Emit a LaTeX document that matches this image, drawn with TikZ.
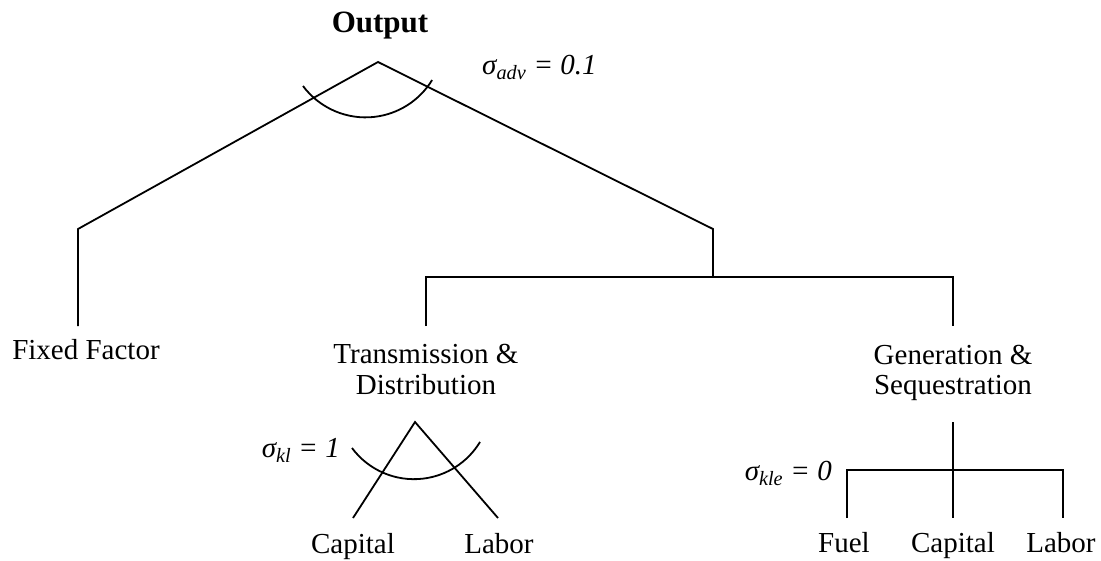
\documentclass[tikz,border=0pt]{standalone}
\usepackage{fontspec}
\setmainfont{Liberation Serif}
\newcommand{\sgm}[2]{{\itshape σ\textsubscript{#1} = #2}}
\tikzset{
  ln/.style={line width=1.8pt, line cap=butt, line join=miter},
  lbl/.style={inner sep=0pt, font=\fontsize{29}{31}\selectfont},
  ttl/.style={inner sep=0pt, font=\fontsize{31}{33}\selectfont\bfseries},
  sg/.style={inner sep=0pt, font=\fontsize{29}{31}\selectfont},
}
\begin{document}
\begin{tikzpicture}[x=1pt,y=-1pt]
\useasboundingbox (0,0) rectangle (1101,560);
% labels
\node[ttl, anchor=base] (out) at (380,32) {Output};
\node[sg, anchor=base west] (sadv) at (482,74) {\sgm{adv}{0.1}};
\node[lbl, anchor=base] (ff) at (86,359) {Fixed Factor};
\node[lbl, anchor=base] (td1) at (426,363) {Transmission \&};
\node[lbl, anchor=base] (td2) at (426,394) {Distribution};
\node[lbl, anchor=base] (gs1) at (953,364) {Generation \&};
\node[lbl, anchor=base] (gs2) at (953,394) {Sequestration};
\node[sg, anchor=base east] (skl) at (340,457) {\sgm{kl}{1}};
\node[sg, anchor=base east] (skle) at (832,480) {\sgm{kle}{0}};
\node[lbl, anchor=base] (cap1) at (353,553) {Capital};
\node[lbl, anchor=base] (lab1) at (499,553) {Labor};
\node[lbl, anchor=base] (fuel) at (844,552) {Fuel};
\node[lbl, anchor=base] (cap2) at (953,552) {Capital};
\node[lbl, anchor=base] (lab2) at (1061,552) {Labor};
% coordinates
\coordinate (apex) at (378,62);
\coordinate (jl) at (78,229);
\coordinate (ffT) at (78,326);
\coordinate (jr) at (713,229);
\coordinate (jh) at (713,277);
\coordinate (hl) at (426,277);
\coordinate (hr) at (953,277);
\coordinate (tdT) at (426,326);
\coordinate (gsT) at (953,326);
\coordinate (apex2) at (415,422);
\coordinate (c1T) at (353,518);
\coordinate (l1T) at (498,518);
\coordinate (gsB) at (953,422);
\coordinate (kl) at (847,470);
\coordinate (kr) at (1063,470);
\coordinate (fuT) at (847,518);
\coordinate (c2T) at (953,518);
\coordinate (l2T) at (1063,518);
\coordinate (arcA) at (303,86);
\coordinate (arcB) at (352,448);
% connectors
\draw[ln] (ffT) -- (jl) -- (apex) -- (jr) -- (jh);
\draw[ln] (tdT) -- (hl) -- (hr) -- (gsT);
\draw[ln] (c1T) -- (apex2) -- (l1T);
\draw[ln] (gsB) -- (c2T);
\draw[ln] (fuT) -- (kl) -- (kr) -- (l2T);
\draw[ln] (arcA) arc[start angle=143.3, end angle=31.4, radius=78];
\draw[ln] (arcB) arc[start angle=143.4, end angle=31.2, radius=77.2];
\end{tikzpicture}
\end{document}
